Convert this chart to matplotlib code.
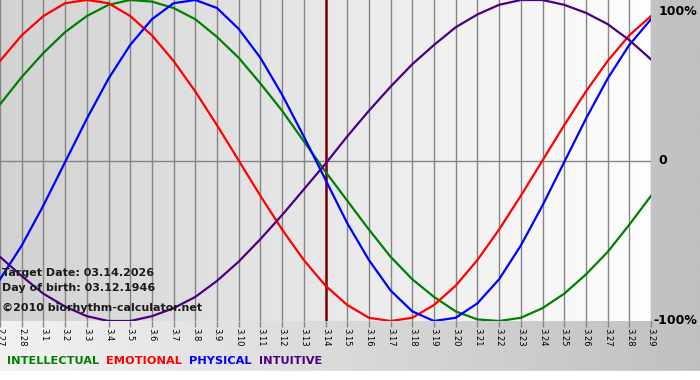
import numpy as np
import matplotlib
matplotlib.use('Agg')
import matplotlib.pyplot as plt

# days shown on the x axis (2.27 .. 3.29)
day_labels = ['2.27', '2.28'] + ['3.%d' % k for k in range(1, 30)]
target_label = '3.14'

# values in percent
physical = [-74, -53, -28, -1, 26, 51, 72, 88, 98, 100, 95, 82, 64, 41, 15,
            -12, -39, -62, -81, -94, -100, -98, -89, -74, -53, -28, -1, 26, 51, 72, 88]
emotional = [62, 78, 90, 98, 100, 98, 90, 78, 62, 43, 22, 0, -22, -43, -62,
             -78, -90, -98, -100, -98, -90, -78, -62, -43, -22, 0, 22, 43, 62, 78, 90]
intellectual = [35, 52, 67, 80, 90, 97, 100, 99, 95, 88, 77, 64, 48, 31, 12,
                -7, -25, -43, -60, -74, -85, -94, -99, -100, -98, -92, -83, -71, -57, -40, -22]
intuitive = [-60, -72, -83, -91, -97, -100, -100, -97, -92, -85, -75, -63, -49, -34, -18,
             -2, 15, 31, 46, 60, 72, 83, 91, 97, 100, 100, 97, 92, 85, 75, 63]

series = [
    ('INTELLECTUAL', intellectual, '#008000'),
    ('EMOTIONAL', emotional, '#ff0000'),
    ('PHYSICAL', physical, '#0000ff'),
    ('INTUITIVE', intuitive, '#4b0082'),
]

fig = plt.figure(figsize=(7, 3.8), dpi=100)

# figure background: light on the left, grey on the right
bg = fig.add_axes([0, 0, 1, 1], zorder=-10)
grad = np.linspace(0, 1, 256).reshape(1, -1)
bg.imshow(grad, extent=[0, 1, 0, 1], aspect='auto',
          cmap=matplotlib.colors.LinearSegmentedColormap.from_list('bg', ['#f2f2f2', '#c0c0c0']))
bg.axhspan(0, 0.025, color='white', zorder=2)
bg.set_xlim(0, 1)
bg.set_ylim(0, 1)
bg.axis('off')

ax = fig.add_axes([0, 1 - 321 / 380, 651 / 700, 321 / 380])
x = np.arange(len(day_labels))
n = len(day_labels) - 1

# plot area: grey on the left, almost white on the right
ax.imshow(grad, extent=[0, n, -100, 100], aspect='auto', zorder=0,
          cmap=matplotlib.colors.LinearSegmentedColormap.from_list('pa', ['#d2d2d2', '#fefefe']))

for xi in x:
    ax.axvline(xi, color='#858585', lw=1, zorder=1)
ax.axhline(0, color='#858585', lw=1, zorder=1)

ti = day_labels.index(target_label)
ax.axvline(ti, color='#7a0000', lw=1.8, zorder=2)

for name, vals, col in series:
    ax.plot(x, vals, color=col, lw=1.6, zorder=3, solid_joinstyle='round')

ax.set_xlim(0, n)
ax.set_ylim(-100, 100)
ax.set_xticks(x)
ax.set_xticklabels(day_labels, rotation=-90, fontsize=6, va='top', ha='center')
ax.tick_params(axis='x', length=4, width=1, color='#858585', pad=1)
ax.set_yticks([])
for s in ax.spines.values():
    s.set_visible(False)

# right side percentage labels
ax.text(n + 0.35, 97, '100%', fontsize=9, fontweight='bold', va='top', ha='left', clip_on=False)
ax.text(n + 0.35, 0, '0', fontsize=9, fontweight='bold', va='center', ha='left', clip_on=False)
ax.text(n + 0.1, -100, '-100%', fontsize=9, fontweight='bold', va='center', ha='left', clip_on=False)

# info text
ax.text(0.1, -70, 'Target Date: 03.14.2026', fontsize=8, fontweight='bold', color='#1a1a1a', va='center', zorder=4)
ax.text(0.1, -79.5, 'Day of birth: 03.12.1946', fontsize=8, fontweight='bold', color='#1a1a1a', va='center', zorder=4)
ax.text(0.1, -92, '\u00a92010 biorhythm-calculator.net', fontsize=8, fontweight='bold', color='#1a1a1a', va='center', zorder=4)

# legend as coloured words
xpos = 7
for name, vals, col in series:
    t = fig.text(xpos / 700, 1 - 361 / 380, name, fontsize=8.2, fontweight='bold',
                 color=col, va='center', ha='left')
    fig.canvas.draw()
    w = t.get_window_extent().width
    xpos += w + 7

fig.savefig('out.png', dpi=100)
